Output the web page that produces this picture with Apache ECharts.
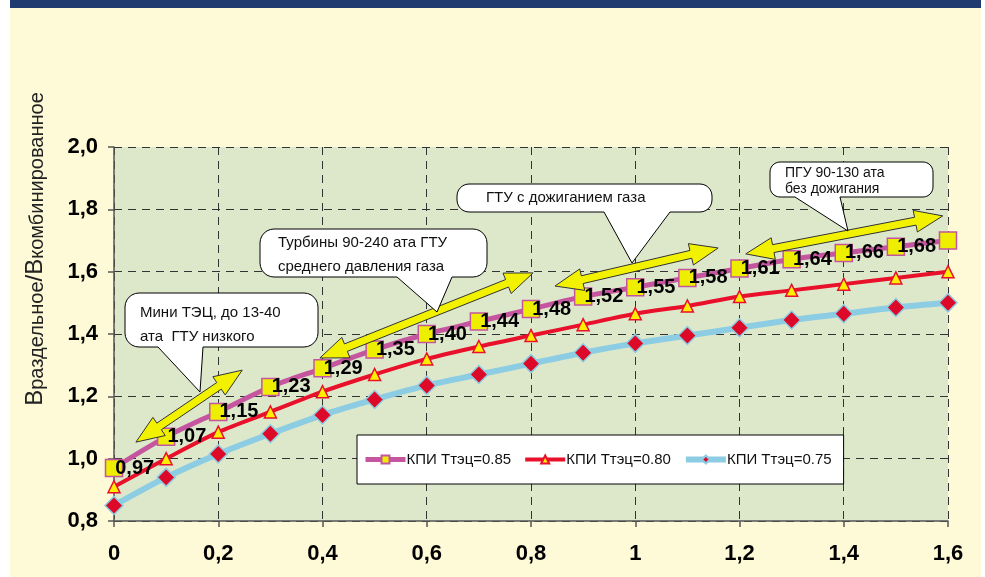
<!DOCTYPE html>
<html>
<head>
<meta charset="utf-8">
<script src="https://cdn.jsdelivr.net/npm/echarts@6/dist/echarts.min.js"></script>
<style>
  html, body { margin: 0; padding: 0; background: #ffffff; }
  #chart { width: 985px; height: 577px; }
</style>
</head>
<body>
<div id="chart"></div>
<script>
// Доля мощности / x-axis positions
const xValues = [0, 0.1, 0.2, 0.3, 0.4, 0.5, 0.6, 0.7, 0.8, 0.9, 1.0, 1.1, 1.2, 1.3, 1.4, 1.5, 1.6];

// Отношение расходов топлива при разных КПИ
const kpi085 = [0.97, 1.07, 1.15, 1.23, 1.29, 1.35, 1.40, 1.44, 1.48, 1.52, 1.55, 1.58, 1.61, 1.64, 1.66, 1.68, 1.70];
const kpi080 = [0.91, 1.00, 1.085, 1.15, 1.215, 1.27, 1.32, 1.36, 1.395, 1.43, 1.465, 1.49, 1.52, 1.54, 1.56, 1.58, 1.60];
const kpi075 = [0.85, 0.94, 1.015, 1.08, 1.14, 1.19, 1.235, 1.27, 1.305, 1.34, 1.37, 1.395, 1.42, 1.445, 1.465, 1.485, 1.50];

const seriesNames = ['КПИ Ттэц=0.85', 'КПИ Ттэц=0.80', 'КПИ Ттэц=0.75'];
const labelCount = 16; // the last point of the upper curve carries no label

// Arrow ranges in data coordinates: [[x1, y1], [x2, y2]]
const arrowRanges = [
  [[0.042, 1.053], [0.246, 1.284]],
  [[0.395, 1.323], [0.804, 1.596]],
  [[0.846, 1.554], [1.159, 1.676]],
  [[1.212, 1.657], [1.590, 1.779]]
];

const calloutTexts = [
  ['Мини ТЭЦ, до 13-40', 'ата  ГТУ низкого'],
  ['Турбины 90-240 ата ГТУ', 'среднего давления газа'],
  ['ГТУ с дожиганием газа'],
  ['ПГУ 90-130 ата', 'без дожигания']
];

const FONT = 'Arial, "Liberation Sans", sans-serif';
const comma = s => s.replace('.', ',');

function pairs(ys) { return xValues.map((x, i) => [x, ys[i]]); }

const chart = echarts.init(document.getElementById('chart'), null, { renderer: 'canvas' });

const lineColors = ['#C4559E', '#E8102A', '#8CCDE3'];
const lineWidths = [5, 4, 6];

const option = {
  backgroundColor: '#FEF9D6',
  animation: false,
  grid: {
    left: 114, right: 37, top: 147, bottom: 56,
    show: true, backgroundColor: '#DDE8CB', borderWidth: 0
  },
  legend: {
    left: 357, top: 435,
    padding: [17, 12, 17, 6],
    itemGap: 12,
    itemWidth: 40, itemHeight: 10,
    backgroundColor: '#ffffff',
    borderColor: '#000000', borderWidth: 1,
    textStyle: { fontFamily: FONT, fontSize: 15, color: '#111111', padding: [0, 0, 0, -4] },
    data: seriesNames.map((n, i) => ({ name: n, lineStyle: { width: lineWidths[i], color: lineColors[i] } }))
  },
  xAxis: {
    type: 'value', min: 0, max: 1.6, interval: 0.2,
    axisLine: { show: true, onZero: false, lineStyle: { color: '#555555', width: 1.5 } },
    axisTick: { show: true, length: 6, lineStyle: { color: '#555555', width: 1.5 } },
    axisLabel: {
      margin: 22, fontFamily: FONT, fontSize: 22, fontWeight: 'bold', color: '#000000',
      formatter: v => comma(String(parseFloat(v.toFixed(1))))
    },
    splitLine: { show: true, lineStyle: { color: '#333333', type: [8, 6], width: 1 } }
  },
  yAxis: {
    type: 'value', min: 0.8, max: 2.0, interval: 0.2,
    axisLine: { show: true, lineStyle: { color: '#555555', width: 1.5 } },
    axisTick: { show: true, length: 6, lineStyle: { color: '#555555', width: 1.5 } },
    axisLabel: {
      margin: 16, fontFamily: FONT, fontSize: 22, fontWeight: 'bold', color: '#000000',
      formatter: v => comma(v.toFixed(1))
    },
    splitLine: { show: true, lineStyle: { color: '#333333', type: [8, 6], width: 1 } }
  },
  series: [
    {
      name: seriesNames[0], type: 'line', smooth: 0.3, z: 6,
      data: pairs(kpi085).map((p, i) => ({ value: p, label: { show: i < labelCount } })),
      lineStyle: { color: lineColors[0], width: lineWidths[0] },
      itemStyle: { color: '#EEEE00', borderColor: lineColors[0], borderWidth: 1.5 },
      symbol: 'rect', symbolSize: 17,
      label: {
        show: true, position: 'right', distance: -8,
        fontFamily: FONT, fontSize: 20, fontWeight: 'bold', color: '#000000',
        formatter: p => comma(p.value[1].toFixed(2))
      }
    },
    {
      name: seriesNames[1], type: 'line', smooth: 0.3, z: 4,
      data: pairs(kpi080),
      lineStyle: { color: lineColors[1], width: lineWidths[1] },
      itemStyle: { color: '#FFEE00', borderColor: lineColors[1], borderWidth: 1.5 },
      symbol: 'triangle', symbolSize: 12
    },
    {
      name: seriesNames[2], type: 'line', smooth: 0.3, z: 3,
      data: pairs(kpi075),
      lineStyle: { color: lineColors[2], width: lineWidths[2] },
      itemStyle: { color: '#DC0A28', borderColor: lineColors[2], borderWidth: 1.5 },
      symbol: 'diamond', symbolSize: 18
    }
  ]
};

chart.setOption(option);

// Double-headed block arrow between two pixel points
function doubleArrow(a, b) {
  const dx = b[0] - a[0], dy = b[1] - a[1];
  const len = Math.hypot(dx, dy);
  const ux = dx / len, uy = dy / len;
  const nx = -uy, ny = ux;
  const L = 28, H = 11, w = 4;
  const P = (p, s, t) => [p[0] + ux * s + nx * t, p[1] + uy * s + ny * t];
  return [
    a, P(a, L, H), P(a, L, w), P(b, -L, w), P(b, -L, H),
    b, P(b, -L, -H), P(b, -L, -w), P(a, L, -w), P(a, L, -H)
  ];
}

// Rounded box with a pointed tail on its lower edge
function calloutPoints(c) {
  const pts = [];
  const arc = (cx, cy, a0, a1) => {
    for (let k = 0; k <= 6; k++) {
      const a = a0 + (a1 - a0) * k / 6;
      pts.push([cx + c.r * Math.cos(a), cy + c.r * Math.sin(a)]);
    }
  };
  arc(c.x1 + c.r, c.y1 + c.r, Math.PI, 1.5 * Math.PI);
  arc(c.x2 - c.r, c.y1 + c.r, 1.5 * Math.PI, 2 * Math.PI);
  arc(c.x2 - c.r, c.y2 - c.r, 0, 0.5 * Math.PI);
  pts.push([c.t2, c.y2], [c.tx, c.ty], [c.t1, c.y2]);
  arc(c.x1 + c.r, c.y2 - c.r, 0.5 * Math.PI, Math.PI);
  return pts;
}

const callouts = [
  { x1: 125, y1: 293, x2: 318, y2: 347, r: 14, t1: 158, t2: 203, tx: 200, ty: 392, tX: 140, lines: [313, 337], fs: 15 },
  { x1: 260, y1: 229, x2: 487, y2: 277, r: 14, t1: 397, t2: 452, tx: 437, ty: 312, tX: 278, lines: [243, 267], fs: 15 },
  { x1: 457, y1: 184, x2: 712, y2: 212, r: 12, t1: 604, t2: 670, tx: 632, ty: 263, tX: 486, lines: [198], fs: 15 },
  { x1: 770, y1: 162, x2: 933, y2: 197, r: 10, t1: 795, t2: 840, tx: 848, ty: 231, tX: 785, lines: [173, 189], fs: 14 }
];

const graphics = [
  { type: 'rect', shape: { x: 0, y: 0, width: 10, height: 577 }, style: { fill: '#ffffff' }, silent: true },
  { type: 'rect', shape: { x: 981, y: 0, width: 4, height: 577 }, style: { fill: '#ffffff' }, silent: true },
  { type: 'rect', shape: { x: 10, y: 0, width: 971, height: 8 }, style: { fill: '#1F3B6F' }, silent: true },
  {
    type: 'text', x: 35, y: 249, rotation: Math.PI / 2, silent: true,
    style: {
      text: '{b|В}{s|раздельное}{b|/В}{s|комбинированное}',
      align: 'center', verticalAlign: 'middle',
      rich: {
        b: { fontFamily: FONT, fontSize: 24, fill: '#222222', verticalAlign: 'bottom' },
        s: { fontFamily: FONT, fontSize: 20, fill: '#222222', verticalAlign: 'bottom' }
      }
    }
  }
];

arrowRanges.forEach(r => {
  const a = chart.convertToPixel({ gridIndex: 0 }, r[0]);
  const b = chart.convertToPixel({ gridIndex: 0 }, r[1]);
  graphics.push({
    type: 'polygon', z: 20, silent: true,
    shape: { points: doubleArrow(a, b) },
    style: { fill: '#F2F200', stroke: '#333333', lineWidth: 1 }
  });
});

callouts.forEach((c, i) => {
  graphics.push({
    type: 'polygon', z: 20, silent: true,
    shape: { points: calloutPoints(c) },
    style: { fill: '#ffffff', stroke: '#000000', lineWidth: 1 }
  });
  calloutTexts[i].forEach((t, j) => {
    graphics.push({
      type: 'text', z: 21, silent: true, x: c.tX, y: c.lines[j],
      style: { text: t, fontFamily: FONT, fontSize: c.fs, fill: '#111111', align: 'left', verticalAlign: 'middle' }
    });
  });
});

chart.setOption({ graphic: graphics });
</script>
</body>
</html>
